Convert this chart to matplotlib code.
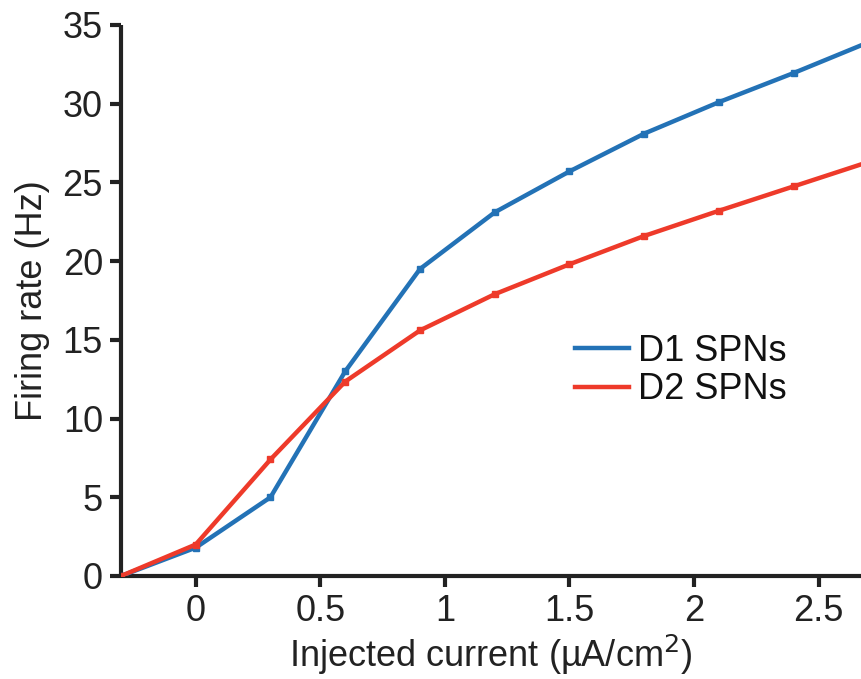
import matplotlib
matplotlib.use("Agg")
import matplotlib.pyplot as plt

plt.rcParams['font.family'] = ['Liberation Sans', 'DejaVu Sans']

# Injected current (uA/cm^2) and firing rates (Hz)
current = [-0.3, 0.0, 0.3, 0.6, 0.9, 1.2, 1.5, 1.8, 2.1, 2.4, 2.7]
d1_rate = [0.0, 1.8, 5.0, 13.0, 19.5, 23.1, 25.7, 28.1, 30.1, 31.95, 33.9]
d2_rate = [0.0, 2.0, 7.4, 12.35, 15.6, 17.9, 19.8, 21.6, 23.2, 24.75, 26.3]

x_ticks = [0, 0.5, 1, 1.5, 2, 2.5]
x_tick_labels = ["0", "0.5", "1", "1.5", "2", "2.5"]
y_ticks = [0, 5, 10, 15, 20, 25, 30, 35]

blue = "#2372B6"
red = "#EE3A2A"
ink = "#222222"

fig = plt.figure(figsize=(8.61, 6.79), dpi=100)
ax = fig.add_axes([0.1405, 0.1517, 0.8595, 0.8115])

ax.plot(current, d1_rate, color=blue, linewidth=3.2, marker="s",
        markersize=5, label="D1 SPNs", zorder=3)
ax.plot(current, d2_rate, color=red, linewidth=3.2, marker="s",
        markersize=5, label="D2 SPNs", zorder=4)

ax.set_xlim(-0.3, 2.67)
ax.set_ylim(0, 35)
ax.set_xticks(x_ticks)
ax.set_xticklabels(x_tick_labels)
ax.set_yticks(y_ticks)

for side in ["top", "right"]:
    ax.spines[side].set_visible(False)
for side in ["left", "bottom"]:
    ax.spines[side].set_linewidth(3)
    ax.spines[side].set_color(ink)
    ax.spines[side].set_capstyle("butt")

ax.tick_params(axis="both", direction="out", length=8, width=3,
               color=ink, labelsize=26, labelcolor=ink, pad=5)

ax.set_xlabel("Injected current (\u00b5A/cm$^2$)", fontsize=26, color=ink, labelpad=3)
ax.set_ylabel("Firing rate (Hz)", fontsize=26, color=ink, labelpad=9)

handles, labels = ax.get_legend_handles_labels()
leg = ax.legend([plt.Line2D([], [], color=blue, linewidth=3.2),
                 plt.Line2D([], [], color=red, linewidth=3.2)], labels,
                loc="center left", bbox_to_anchor=(0.57, 0.373),
                frameon=False, fontsize=26, handlelength=1.5,
                handletextpad=0.25, labelspacing=0.1)
for t in leg.get_texts():
    t.set_color("#111111")

fig.savefig("out.png", dpi=100)
